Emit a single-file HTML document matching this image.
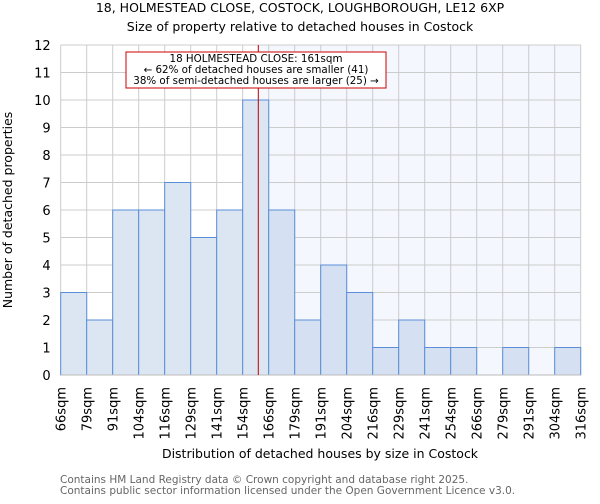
<!DOCTYPE html>
<html><head><meta charset="utf-8"><style>
body{margin:0;background:#fff;font-family:"DejaVu Sans","Liberation Sans",sans-serif}
svg text{font-family:"DejaVu Sans","Liberation Sans",sans-serif}
</style></head><body>
<svg id="chart" width="600" height="500" xmlns="http://www.w3.org/2000/svg">
<text x="300" y="12" text-anchor="middle" font-size="12.5">18, HOLMESTEAD CLOSE, COSTOCK, LOUGHBOROUGH, LE12 6XP</text>
<text x="300" y="31" text-anchor="middle" font-size="12.5">Size of property relative to detached houses in Costock</text>
<g id="plot"></g>
<text x="320" y="458" text-anchor="middle" font-size="12.5">Distribution of detached houses by size in Costock</text>
<text transform="translate(12,210) rotate(-90)" text-anchor="middle" font-size="12.5">Number of detached properties</text>
<text x="60" y="483" font-size="10.5" fill="#666">Contains HM Land Registry data © Crown copyright and database right 2025.</text>
<text x="60" y="494" font-size="10.5" fill="#666">Contains public sector information licensed under the Open Government Licence v3.0.</text>
</svg>
<script>
const binLabels=["66sqm","79sqm","91sqm","104sqm","116sqm","129sqm","141sqm","154sqm","166sqm","179sqm","191sqm","204sqm","216sqm","229sqm","241sqm","254sqm","266sqm","279sqm","291sqm","304sqm","316sqm"];
const counts=[3,2,6,6,7,5,6,10,6,2,4,3,1,2,1,1,0,1,0,1];
const yTicks=[0,1,2,3,4,5,6,7,8,9,10,11,12];
const propertySize=161;
const binStart=66, binWidth=12.5;
const NS="http://www.w3.org/2000/svg";
const X0=60.7,BW=26,Y0=375,UNIT=27.5;
const xs=v=>X0+(v-binStart)/binWidth*BW;
const ys=v=>Y0-v*UNIT;
const g=document.getElementById('plot');
function mk(t,a){const e=document.createElementNS(NS,t);for(const k in a)e.setAttribute(k,a[k]);g.appendChild(e);return e;}
const XR=X0+counts.length*BW, lx=xs(propertySize);
let e=mk('rect',{x:lx,y:ys(12),width:XR-lx,height:ys(0)-ys(12),fill:'#f4f7fd'});


yTicks.forEach(t=>{
 let l=mk('line',{x1:X0,x2:XR,y1:ys(t),y2:ys(t),stroke:'#ccc','stroke-width':1});
 
 
 let tx=mk('text',{x:X0-10,y:ys(t)+5,'text-anchor':'end','font-size':13});
 tx.textContent=t;
 
 
});
binLabels.forEach((b,i)=>{
 const x=X0+i*BW;
 let l=mk('line',{x1:x,x2:x,y1:ys(12),y2:ys(0),stroke:'#ccc','stroke-width':1});
 
 
 let tx=mk('text',{transform:`translate(${x+5},${ys(0)+12}) rotate(-90)`,'text-anchor':'end','font-size':13});
 tx.textContent=b;
 
 
});
counts.forEach((c,i)=>{
 if(c<=0)return;
 const x=X0+i*BW;
 let r=mk('rect',{x:x,y:ys(c),width:BW,height:ys(0)-ys(c),fill:x+BW/2<lx?'#dce6f3':'#d5e0f2',stroke:'#5a8fd8','stroke-width':1});
 
 
});
let ax=mk('line',{x1:X0,x2:XR,y1:ys(0),y2:ys(0),stroke:'#bbb','stroke-width':1});


let ml=mk('line',{x1:lx,x2:lx,y1:ys(12),y2:ys(0),stroke:'#b00','stroke-width':1});


let box=mk('rect',{x:126,y:52,width:260,height:36,fill:'#fff',stroke:'#c00','stroke-width':1});


["18 HOLMESTEAD CLOSE: 161sqm","← 62% of detached houses are smaller (41)","38% of semi-detached houses are larger (25) →"].forEach((s,i)=>{
 let t=mk('text',{x:256,y:62+i*11,'text-anchor':'middle','font-size':10.3});
 t.textContent=s;
 
 
});
</script>
</body></html>
